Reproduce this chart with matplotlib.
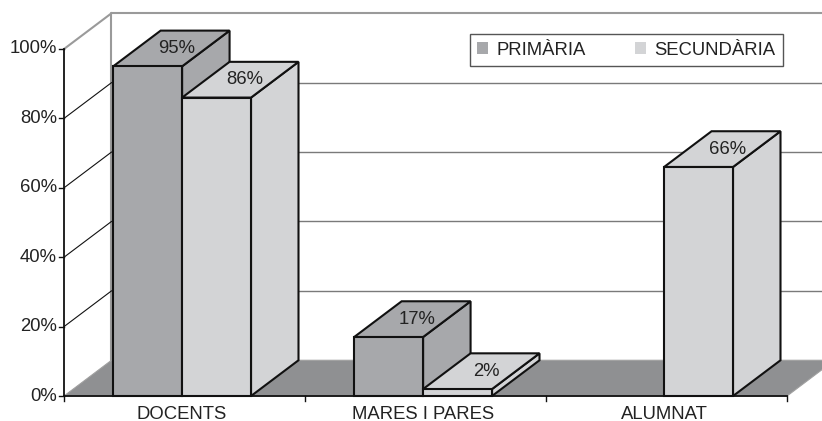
import matplotlib
matplotlib.use("Agg")
import matplotlib.pyplot as plt
from matplotlib.patches import Polygon, Patch

# data
categories = ["DOCENTS", "MARES I PARES", "ALUMNAT"]
primaria = [95, 17, None]
secundaria = [86, 2, 66]
series_names = ["PRIMÀRIA", "SECUNDÀRIA"]
y_ticks = [0, 20, 40, 60, 80, 100]

# look
COL_PRI = "#a7a8ab"
COL_SEC = "#d3d4d6"
COL_FLOOR = "#8f9092"
COL_WALL = "#9a9a9a"
TXT = "#222222"
FS = 13.3
plt.rcParams["font.family"] = ["Liberation Sans", "DejaVu Sans"]

DX, DY = 0.197, 10.3      # 3d depth offset (data units)
BW = 0.286                # bar width
SHIFT = -0.01

fig = plt.figure(figsize=(8.22, 4.21), dpi=100)
ax = fig.add_axes([0, 0, 1, 1])
ax.set_xlim(-0.7656, 2.6452)
ax.set_ylim(-7.2, 114.12)
ax.axis("off")

x_left, x_right = -0.5, len(categories) - 0.5

# back wall gridlines
for v in y_ticks[1:-1]:
    ax.plot([x_left + DX, x_right + DX], [v + DY, v + DY], color="#7a7a7a", lw=1.0, zorder=1)
ax.plot([x_left + DX, x_left + DX, x_right + DX], [DY, 100 + DY, 100 + DY],
        color=COL_WALL, lw=1.5, zorder=1)
# side wall
for v in y_ticks[1:-1]:
    ax.plot([x_left, x_left + DX], [v, v + DY], color="#111111", lw=0.8, zorder=1)
ax.plot([x_left, x_left + DX], [100, 100 + DY], color=COL_WALL, lw=1.5, zorder=1)

# floor
floor = Polygon([(x_left, 0), (x_right, 0), (x_right + DX, DY), (x_left + DX, DY)],
                closed=True, facecolor=COL_FLOOR, edgecolor="#a0a0a0", lw=0.8, zorder=2)
ax.add_patch(floor)


def bar3d(x0, v, color):
    x1 = x0 + BW
    kw = dict(closed=True, facecolor=color, edgecolor="#111111", lw=1.5,
              joinstyle="miter", zorder=3)
    ax.add_patch(Polygon([(x1, 0), (x1 + DX, DY), (x1 + DX, v + DY), (x1, v)], **kw))
    ax.add_patch(Polygon([(x0, v), (x1, v), (x1 + DX, v + DY), (x0 + DX, v + DY)], **kw))
    ax.add_patch(Polygon([(x0, 0), (x1, 0), (x1, v), (x0, v)], **kw))
    ax.text((x0 + x1) / 2 + DX / 2 + 0.02, v + DY / 2, f"{v}%", ha="center", va="center",
            fontsize=FS, color=TXT, zorder=4)


for i in range(len(categories)):
    if primaria[i] is not None:
        bar3d(i - BW + SHIFT, primaria[i], COL_PRI)
    if secundaria[i] is not None:
        bar3d(i + SHIFT, secundaria[i], COL_SEC)

# axes lines
ax.plot([x_left, x_left], [0, 100], color="#111111", lw=1.3, zorder=5)
ax.plot([x_left, x_right], [0, 0], color="#111111", lw=1.3, zorder=5)
for v in y_ticks:
    ax.plot([x_left - 0.022, x_left], [v, v], color="#111111", lw=1.0, zorder=5)
    ax.text(x_left - 0.03, v, f"{v}%", ha="right", va="center", fontsize=FS, color=TXT)
for k in range(len(categories) + 1):
    ax.plot([x_left + k, x_left + k], [0, -1.5], color="#111111", lw=1.0, zorder=5)
for i, c in enumerate(categories):
    ax.text(i - 0.01, -5.2, c, ha="center", va="center", fontsize=FS, color=TXT)

# legend
handles = [Patch(facecolor=COL_PRI, edgecolor="none"), Patch(facecolor=COL_SEC, edgecolor="none")]
leg = fig.legend(handles, series_names, loc="lower left", ncol=2, mode="expand",
                 bbox_to_anchor=(470 / 822, 1 - 66 / 421, 313 / 822, 31 / 421),
                 fancybox=False, framealpha=1, edgecolor="#555555", fontsize=FS,
                 handlelength=0.6, handleheight=0.6, handletextpad=0.45,
                 borderpad=0.4, borderaxespad=0)
leg.get_frame().set_linewidth(1.0)
for t in leg.get_texts():
    t.set_color(TXT)

fig.savefig("out.png", dpi=100)
